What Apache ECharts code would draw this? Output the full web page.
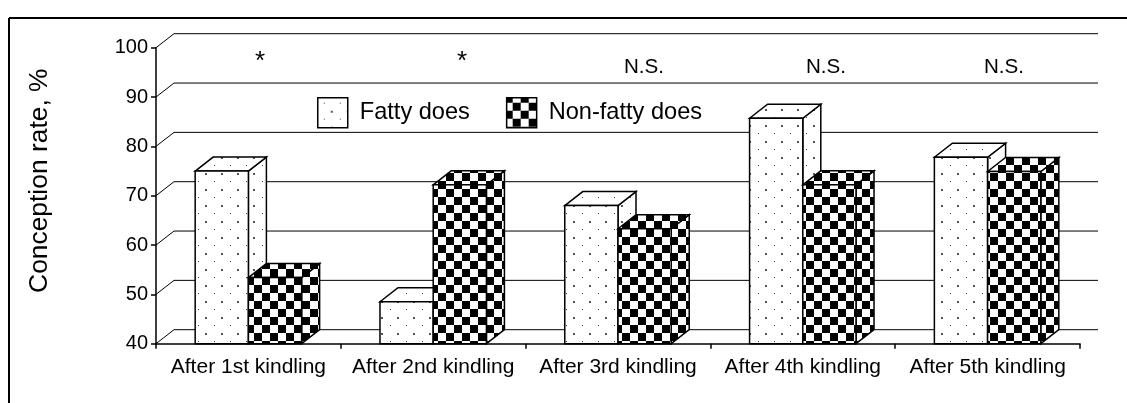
<!DOCTYPE html>
<html>
<head>
<meta charset="utf-8">
<style>
  html, body { margin: 0; padding: 0; background: #fff; }
  #chart { width: 1127px; height: 403px; }
</style>
<script src="https://cdn.jsdelivr.net/npm/echarts@6/dist/echarts.min.js"></script>
</head>
<body>
<div id="chart"></div>
<script>
// data
const categories = ['After 1st kindling', 'After 2nd kindling', 'After 3rd kindling', 'After 4th kindling', 'After 5th kindling']
const fattyDoes = [75, 48.5, 68, 85.7, 77.8]
const nonFattyDoes = [53.4, 72.2, 63.3, 72.2, 74.9]
const yTicks = [40, 50, 60, 70, 80, 90, 100]
const notes = ['*', '*', 'N.S.', 'N.S.', 'N.S.']

const FONT = '"Liberation Sans", Arial, sans-serif'
const DEPTH_X = 18
const DEPTH_Y = 14
const BAR_SHARE = 0.288

// tile fills for the two series, the pattern runs from the page origin like the original
const makeTile = (draw) => {
  const tile = document.createElement('canvas')
  tile.width = 16
  tile.height = 16
  const ctx = tile.getContext('2d')
  ctx.fillStyle = '#fff'
  ctx.fillRect(0, 0, 16, 16)
  draw(ctx)
  return { image: tile, repeat: 'repeat' }
}
const dotted = makeTile((ctx) => {
  ctx.fillStyle = '#555'
  ctx.fillRect(13, 13, 2, 2)
  ctx.fillStyle = '#444'
  ctx.fillRect(6, 5, 1, 1)
})
const checker = makeTile((ctx) => {
  ctx.fillStyle = '#000'
  ctx.fillRect(6, 5, 8, 8)
  // second square wraps round the tile edges
  ctx.fillRect(14, 13, 2, 3)
  ctx.fillRect(0, 13, 6, 3)
  ctx.fillRect(14, 0, 2, 5)
  ctx.fillRect(0, 0, 6, 5)
})

// one box: side, top and front face
const renderBox = (fill, side) => (params, api) => {
  const i = api.value(0)
  const [cx, yTop] = api.coord([i, api.value(1)])
  const yBase = api.coord([i, yTicks[0]])[1]
  const w = api.size([1, 0])[0] * BAR_SHARE
  const x0 = side < 0 ? cx - w : cx
  const x1 = x0 + w
  const style = { fill, stroke: '#000', lineWidth: 1.5 }
  const face = (points) => ({ type: 'polygon', shape: { points }, style })
  return {
    type: 'group',
    children: [
      face([[x1, yBase], [x1 + DEPTH_X, yBase - DEPTH_Y], [x1 + DEPTH_X, yTop - DEPTH_Y], [x1, yTop]]),
      face([[x0, yTop], [x0 + DEPTH_X, yTop - DEPTH_Y], [x1 + DEPTH_X, yTop - DEPTH_Y], [x1, yTop]]),
      face([[x0, yBase], [x1, yBase], [x1, yTop], [x0, yTop]])
    ]
  }
}

// back wall lines, each leaving the y axis on a slant
const renderWall = (params, api) => {
  const y = api.coord([0, api.value(1)])[1]
  const left = params.coordSys.x
  const right = left + params.coordSys.width
  return {
    type: 'polyline',
    shape: { points: [[left, y], [left + DEPTH_X, y - DEPTH_Y], [right + DEPTH_X, y - DEPTH_Y]] },
    style: { fill: 'none', stroke: '#000', lineWidth: 1 }
  }
}

const toPoints = (values) => values.map((v, i) => [i, v])

const chart = echarts.init(document.getElementById('chart'))
chart.setOption({
  animation: false,
  backgroundColor: '#fff',
  textStyle: { fontFamily: FONT, color: '#000' },
  grid: { left: 156, right: 47, top: 47.7, bottom: 59.3 },
  legend: {
    left: 312,
    top: 92,
    itemWidth: 30,
    itemHeight: 30,
    itemGap: 36,
    textStyle: { fontFamily: FONT, fontSize: 23.6, color: '#000', padding: [7, 0, 0, 7] },
    data: [
      { name: 'Fatty does', icon: 'rect', itemStyle: { color: dotted, borderColor: '#000', borderWidth: 1.5 } },
      { name: 'Non-fatty does', icon: 'rect', itemStyle: { color: checker, borderColor: '#000', borderWidth: 1.5 } }
    ]
  },
  xAxis: {
    type: 'category',
    data: categories,
    axisLine: { lineStyle: { color: '#000', width: 1.5 } },
    axisTick: { show: true, alignWithLabel: false, length: 5, lineStyle: { color: '#000', width: 1.5 } },
    axisLabel: { color: '#000', fontFamily: FONT, fontSize: 21, margin: 13, interval: 0 }
  },
  yAxis: {
    type: 'value',
    min: 40,
    max: 100,
    interval: 10,
    name: 'Conception rate, %',
    nameLocation: 'middle',
    nameRotate: 90,
    nameGap: 103,
    nameTextStyle: { color: '#000', fontFamily: FONT, fontSize: 26.4, padding: [0, 0, 0, 30] },
    axisLine: { show: true, onZero: false, lineStyle: { color: '#000', width: 1.5 } },
    axisTick: { show: true, length: 5, lineStyle: { color: '#000', width: 1.5 } },
    axisLabel: { color: '#000', fontFamily: FONT, fontSize: 20, margin: 8 },
    splitLine: { show: false }
  },
  series: [
    { name: 'wall', type: 'custom', renderItem: renderWall, data: yTicks.map((v) => [0, v]), silent: true, encode: { x: 0, y: 1 } },
    { name: 'Fatty does', type: 'custom', renderItem: renderBox(dotted, -1), data: toPoints(fattyDoes), encode: { x: 0, y: 1 } },
    { name: 'Non-fatty does', type: 'custom', renderItem: renderBox(checker, 1), data: toPoints(nonFattyDoes), encode: { x: 0, y: 1 } }
  ],
  graphic: [
    // the frame of the original figure, cut off at right and bottom
    { type: 'line', shape: { x1: 9, y1: 18, x2: 1127, y2: 18 }, style: { stroke: '#000', lineWidth: 2 } },
    { type: 'line', shape: { x1: 9, y1: 18, x2: 9, y2: 403 }, style: { stroke: '#000', lineWidth: 2 } }
  ].concat(notes.map((text, i) => {
    const isStar = text === '*'
    return {
      type: 'text',
      x: [260, 462, 644, 826, 1004][i],
      y: isStar ? 49 : 57,
      style: { text, fontFamily: FONT, fontSize: isStar ? 26 : 20.6, fill: '#000', textAlign: 'center' }
    }
  }))
})
</script>
</body>
</html>
